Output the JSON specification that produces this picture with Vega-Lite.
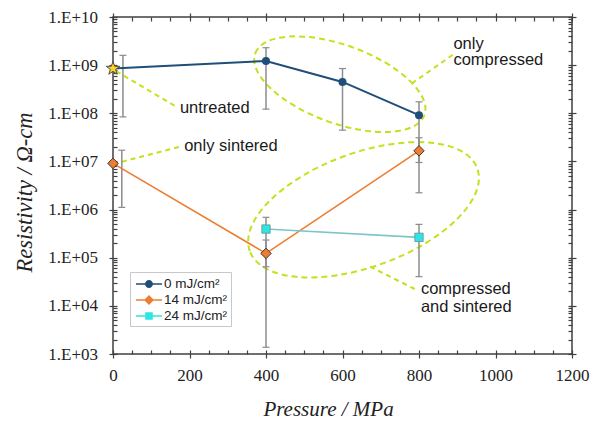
{
  "$schema": "https://vega.github.io/schema/vega-lite/v6.json",
  "width": 459,
  "height": 337,
  "autosize": {"type": "none"},
  "padding": {"left": 113, "top": 17, "right": 18, "bottom": 70},
  "background": "white",
  "config": {
    "view": {"stroke": "#404040", "strokeWidth": 1.5},
    "axis": {
      "grid": false,
      "domain": false,
      "offset": -4,
      "tickSize": 8,
      "tickColor": "#404040",
      "tickWidth": 1.2,
      "labelFont": "Liberation Serif",
      "labelFontSize": 17,
      "labelColor": "#222222",
      "labelOverlap": false,
      "labelFlush": false,
      "titleFont": "Liberation Serif",
      "titleFontSize": 21,
      "titleFontStyle": "italic",
      "titleFontWeight": "normal",
      "titleColor": "#222222"
    }
  },
  "datasets": {
    "series": [
      {"series": "0 mJ/cm²", "x": 0, "y": 850000000},
      {"series": "0 mJ/cm²", "x": 400, "y": 1220000000},
      {"series": "0 mJ/cm²", "x": 600, "y": 448000000},
      {"series": "0 mJ/cm²", "x": 800, "y": 91500000},
      {"series": "14 mJ/cm²", "x": 0, "y": 9100000},
      {"series": "14 mJ/cm²", "x": 400, "y": 123000},
      {"series": "14 mJ/cm²", "x": 800, "y": 16600000},
      {"series": "24 mJ/cm²", "x": 400, "y": 394000},
      {"series": "24 mJ/cm²", "x": 800, "y": 265000}
    ],
    "errors": [
      {"series": "0 mJ/cm²", "x": 26, "y": 84000000, "y2": 1600000000},
      {"series": "0 mJ/cm²", "x": 400, "y": 122000000, "y2": 2300000000},
      {"series": "0 mJ/cm²", "x": 600, "y": 44600000, "y2": 850000000},
      {"series": "0 mJ/cm²", "x": 800, "y": 9500000, "y2": 173000000},
      {"series": "14 mJ/cm²", "x": 23, "y": 1110000, "y2": 17100000},
      {"series": "14 mJ/cm²", "x": 400, "y": 1380, "y2": 233000},
      {"series": "14 mJ/cm²", "x": 800, "y": 2230000, "y2": 31000000},
      {"series": "24 mJ/cm²", "x": 400, "y": 65000, "y2": 690000},
      {"series": "24 mJ/cm²", "x": 800, "y": 40400, "y2": 493000}
    ],
    "ellipses": [
      {"name": "only compressed", "x": 593, "y": 402000000},
      {"name": "compressed and sintered", "x": 655, "y": 990000}
    ],
    "leaders": [
      {"name": "untreated", "x": 8, "y": 750000000, "x2": 166, "y2": 136000000},
      {"name": "only sintered", "x": 23, "y": 9800000, "x2": 178, "y2": 20500000},
      {"name": "only compressed", "x": 781, "y": 415000000, "x2": 893, "y2": 1740000000},
      {"name": "compressed and sintered", "x": 672, "y": 65000, "x2": 794, "y2": 21400}
    ],
    "labels": [
      {"text": "untreated", "x": 175, "y": 128000000},
      {"text": "only sintered", "x": 186, "y": 21100000},
      {"text": "only", "x": 890, "y": 2810000000},
      {"text": "compressed", "x": 890, "y": 1260000000},
      {"text": "compressed", "x": 805, "y": 22100},
      {"text": "and sintered", "x": 805, "y": 9600}
    ]
  },
  "layer": [
    {
      "encoding": {
        "x": {
          "field": "x",
          "type": "quantitative",
          "scale": {"domain": [0, 1200], "nice": false, "zero": false},
          "axis": {
            "orient": "bottom",
            "values": [0, 50, 100, 150, 200, 250, 300, 350, 400, 450, 500, 550, 600, 650, 700, 750, 800, 850, 900, 950, 1000, 1050, 1100, 1150, 1200],
            "labelExpr": "datum.value % 200 == 0 ? format(datum.value, 'd') : ''",
            "tickDash": {"condition": {"test": "datum.value % 200 != 0", "value": [4, 30]}, "value": [30, 0]},
            "labelPadding": 9,
            "title": "Pressure / MPa",
            "titlePadding": 15,
            "titleX": 215
          }
        },
        "y": {
          "field": "y",
          "type": "quantitative",
          "scale": {"type": "log", "domain": [1000, 10000000000], "nice": false},
          "axis": {
            "orient": "left",
            "values": [1e3, 2e3, 3e3, 4e3, 5e3, 6e3, 7e3, 8e3, 9e3, 1e4, 2e4, 3e4, 4e4, 5e4, 6e4, 7e4, 8e4, 9e4, 1e5, 2e5, 3e5, 4e5, 5e5, 6e5, 7e5, 8e5, 9e5, 1e6, 2e6, 3e6, 4e6, 5e6, 6e6, 7e6, 8e6, 9e6, 1e7, 2e7, 3e7, 4e7, 5e7, 6e7, 7e7, 8e7, 9e7, 1e8, 2e8, 3e8, 4e8, 5e8, 6e8, 7e8, 8e8, 9e8, 1e9, 2e9, 3e9, 4e9, 5e9, 6e9, 7e9, 8e9, 9e9, 1e10],
            "labelExpr": "abs(log(datum.value)/LN10 - round(log(datum.value)/LN10)) < 0.001 ? '1.E+' + (round(log(datum.value)/LN10) < 10 ? '0' : '') + round(log(datum.value)/LN10) : ''",
            "tickDash": {"condition": {"test": "abs(log(datum.value)/LN10 - round(log(datum.value)/LN10)) > 0.001", "value": [4, 30]}, "value": [30, 0]},
            "labelPadding": 11.5,
            "title": "Resistivity / Ω-cm",
            "titleFontSize": 22.5,
            "titleX": -81,
            "titleY": 175
          }
        }
      },
      "layer": [
        {
          "data": {"name": "ellipses"},
          "transform": [{"filter": "datum.name == 'only compressed'"}],
          "mark": {"type": "point", "shape": "M -1 0 A 1 0.433 0 1 1 1 0 A 1 0.433 0 1 1 -1 0 Z", "size": 32400, "angle": 20, "filled": false, "stroke": "#c6e01e", "strokeWidth": 2, "strokeDash": [6, 4], "opacity": 1}
        },
        {
          "data": {"name": "ellipses"},
          "transform": [{"filter": "datum.name == 'compressed and sintered'"}],
          "mark": {"type": "point", "shape": "M -1 0 A 1 0.471 0 1 1 1 0 A 1 0.471 0 1 1 -1 0 Z", "size": 58564, "angle": 340, "filled": false, "stroke": "#c6e01e", "strokeWidth": 2, "strokeDash": [6, 4], "opacity": 1}
        },
        {
          "data": {"name": "leaders"},
          "mark": {"type": "rule", "stroke": "#c6e01e", "strokeWidth": 2, "strokeDash": [5, 4]},
          "encoding": {"x2": {"field": "x2"}, "y2": {"field": "y2"}}
        },
        {
          "data": {"name": "labels"},
          "mark": {"type": "text", "align": "left", "baseline": "middle", "font": "Liberation Sans", "fontSize": 16.5, "color": "#1a1a1a"},
          "encoding": {"text": {"field": "text"}}
        },
        {
          "data": {"name": "errors"},
          "mark": {"type": "rule", "stroke": "#8c8c8c", "strokeWidth": 1.5},
          "encoding": {"y2": {"field": "y2"}}
        },
        {
          "data": {"name": "errors"},
          "mark": {"type": "tick", "orient": "horizontal", "size": 7, "thickness": 1.2, "color": "#8c8c8c", "opacity": 1}
        },
        {
          "data": {"name": "errors"},
          "mark": {"type": "tick", "orient": "horizontal", "size": 7, "thickness": 1.2, "color": "#8c8c8c", "opacity": 1},
          "encoding": {"y": {"field": "y2", "type": "quantitative"}}
        },
        {
          "data": {"name": "series"},
          "transform": [{"filter": "datum.series == '0 mJ/cm²'"}],
          "mark": {"type": "line", "color": "#1f4e79", "strokeWidth": 2}
        },
        {
          "data": {"name": "series"},
          "transform": [{"filter": "datum.series == '14 mJ/cm²'"}],
          "mark": {"type": "line", "color": "#ed7d31", "strokeWidth": 1.6}
        },
        {
          "data": {"name": "series"},
          "transform": [{"filter": "datum.series == '24 mJ/cm²'"}],
          "mark": {"type": "line", "color": "#7cc6c8", "strokeWidth": 1.6}
        },
        {
          "data": {"name": "series"},
          "mark": {"type": "point", "filled": true, "opacity": 0},
          "encoding": {
            "color": {
              "field": "series", "type": "nominal",
              "scale": {"domain": ["0 mJ/cm²", "14 mJ/cm²", "24 mJ/cm²"], "range": ["#1f4e79", "#ed7d31", "#2ce5e5"]},
              "legend": {"orient": "none", "legendX": 17, "legendY": 255, "title": null, "padding": 3, "symbolOffset": 7, "symbolSize": 324, "symbolStrokeWidth": 0, "symbolOpacity": 1, "symbolFillColor": {"expr": "datum.value == '0 mJ/cm²' ? '#1f4e79' : datum.value == '14 mJ/cm²' ? '#ed7d31' : '#2ce5e5'"}, "labelOffset": 6, "labelFont": "Liberation Sans", "labelFontSize": 13.5, "labelColor": "#222222", "fillColor": "white", "strokeColor": "#c8c8c8", "rowPadding": 0}
            },
            "shape": {
              "field": "series", "type": "nominal",
              "scale": {"domain": ["0 mJ/cm²", "14 mJ/cm²", "24 mJ/cm²"], "range": [
                "M -1.45 -0.08 L 1.45 -0.08 L 1.45 0.08 L -1.45 0.08 Z M -0.44 0 A 0.44 0.44 0 1 1 0.44 0 A 0.44 0.44 0 1 1 -0.44 0 Z",
                "M -1.45 -0.08 L 1.45 -0.08 L 1.45 0.08 L -1.45 0.08 Z M 0 -0.55 L 0.55 0 L 0 0.55 L -0.55 0 Z",
                "M -1.45 -0.08 L 1.45 -0.08 L 1.45 0.08 L -1.45 0.08 Z M -0.42 -0.42 L 0.42 -0.42 L 0.42 0.42 L -0.42 0.42 Z"
              ]},
              "legend": {"orient": "none", "legendX": 17, "legendY": 255, "title": null, "padding": 3, "symbolOffset": 7, "symbolSize": 324, "symbolStrokeWidth": 0, "symbolOpacity": 1, "symbolFillColor": {"expr": "datum.value == '0 mJ/cm²' ? '#1f4e79' : datum.value == '14 mJ/cm²' ? '#ed7d31' : '#2ce5e5'"}, "labelOffset": 6, "labelFont": "Liberation Sans", "labelFontSize": 13.5, "labelColor": "#222222", "fillColor": "white", "strokeColor": "#c8c8c8", "rowPadding": 0}
            }
          }
        },
        {
          "data": {"name": "series"},
          "transform": [{"filter": "datum.series == '0 mJ/cm²' && datum.x > 0"}],
          "mark": {"type": "point", "shape": "circle", "filled": true, "size": 64, "color": "#1f4e79", "opacity": 1}
        },
        {
          "data": {"name": "series"},
          "transform": [{"filter": "datum.series == '14 mJ/cm²'"}],
          "mark": {"type": "point", "shape": "diamond", "filled": true, "size": 110, "fill": "#ed7d31", "stroke": "#3a3a3a", "strokeWidth": 1, "opacity": 1}
        },
        {
          "data": {"name": "series"},
          "transform": [{"filter": "datum.series == '24 mJ/cm²'"}],
          "mark": {"type": "point", "shape": "square", "filled": true, "size": 70, "fill": "#2ce5e5", "stroke": "#6a8f8f", "strokeWidth": 0.8, "opacity": 1}
        },
        {
          "data": {"name": "series"},
          "transform": [{"filter": "datum.series == '0 mJ/cm²' && datum.x == 0"}],
          "mark": {"type": "point", "shape": "M 0 -1 L 0.235 -0.324 L 0.951 -0.309 L 0.38 0.124 L 0.588 0.809 L 0 0.4 L -0.588 0.809 L -0.38 0.124 L -0.951 -0.309 L -0.235 -0.324 Z", "filled": true, "size": 200, "fill": "#ffd21f", "stroke": "#4d4d4d", "strokeWidth": 1, "opacity": 1}
        }
      ]
    },
    {
      "data": {"values": [{"x": 0, "y": 1000}]},
      "mark": {"type": "point", "opacity": 0},
      "encoding": {
        "x": {
          "field": "x", "type": "quantitative",
          "axis": {
            "orient": "top",
            "values": [0, 50, 100, 150, 200, 250, 300, 350, 400, 450, 500, 550, 600, 650, 700, 750, 800, 850, 900, 950, 1000, 1050, 1100, 1150, 1200],
            "labels": false,
            "tickDash": {"condition": {"test": "datum.value % 200 != 0", "value": [4, 30]}, "value": [30, 0]},
            "title": null
          }
        },
        "y": {
          "field": "y", "type": "quantitative",
          "axis": {
            "orient": "right",
            "values": [1e3, 2e3, 3e3, 4e3, 5e3, 6e3, 7e3, 8e3, 9e3, 1e4, 2e4, 3e4, 4e4, 5e4, 6e4, 7e4, 8e4, 9e4, 1e5, 2e5, 3e5, 4e5, 5e5, 6e5, 7e5, 8e5, 9e5, 1e6, 2e6, 3e6, 4e6, 5e6, 6e6, 7e6, 8e6, 9e6, 1e7, 2e7, 3e7, 4e7, 5e7, 6e7, 7e7, 8e7, 9e7, 1e8, 2e8, 3e8, 4e8, 5e8, 6e8, 7e8, 8e8, 9e8, 1e9, 2e9, 3e9, 4e9, 5e9, 6e9, 7e9, 8e9, 9e9, 1e10],
            "labels": false,
            "tickDash": {"condition": {"test": "abs(log(datum.value)/LN10 - round(log(datum.value)/LN10)) > 0.001", "value": [4, 30]}, "value": [30, 0]},
            "title": null
          }
        }
      }
    }
  ],
  "resolve": {"axis": {"x": "independent", "y": "independent"}}
}
